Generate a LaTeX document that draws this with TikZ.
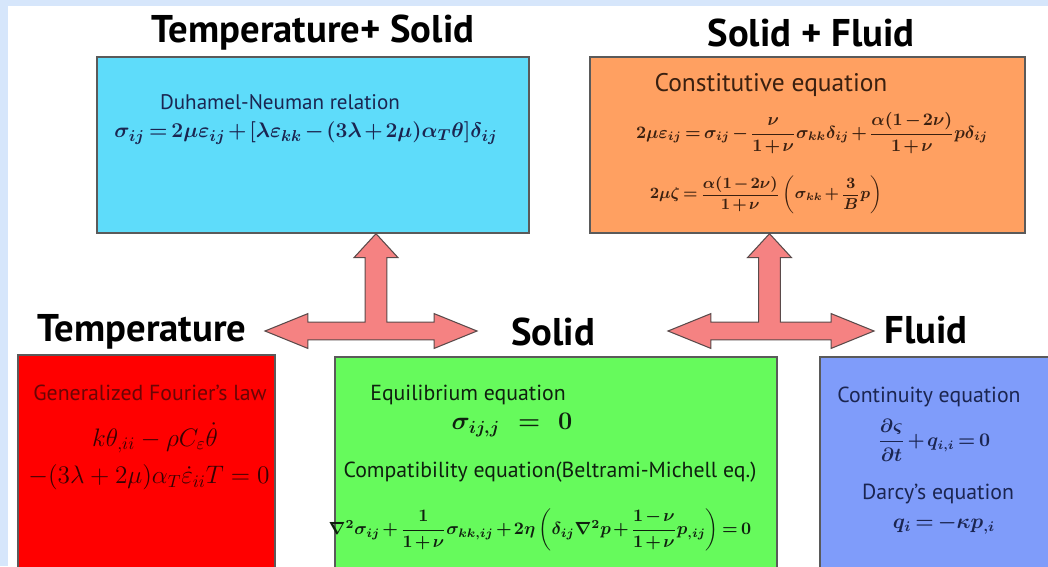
\documentclass[tikz,border=0pt]{standalone}
\usepackage{amsmath}
\usepackage{fontspec}
\setmainfont{PT Sans}
\usepackage{xcolor}
\definecolor{framebg}{HTML}{D6E6FB}
\definecolor{tsfill}{HTML}{5EDCFA}
\definecolor{sffill}{HTML}{FFA061}
\definecolor{tfill}{HTML}{FF0000}
\definecolor{sfill}{HTML}{66FA5C}
\definecolor{ffill}{HTML}{7F9CFA}
\definecolor{arrfill}{HTML}{F58282}
\definecolor{arrline}{HTML}{5A4A4A}
\definecolor{boxline}{HTML}{5A5A5A}
\definecolor{navytxt}{HTML}{1B2550}
\definecolor{browntxt}{HTML}{3A2010}
\definecolor{redtxt}{HTML}{6A0505}
\definecolor{greentxt}{HTML}{0F200F}
\usepackage{tikz}
\usetikzlibrary{calc}
% fat T-shaped double arrow: left tip, right tip, top tip
\newcommand{\teearrow}[3]{%
  \draw[bigarr] let \p1=(#1), \p2=(#2), \p3=(#3) in
    (\x1,\y1) -- ({\x1+24.4pt},{\y1+9.9pt}) -- ({\x1+24.4pt},{\y1+5.1pt})
    -- ({\x3-6.2pt},{\y1+5.1pt}) -- ({\x3-6.2pt},{\y3-13.6pt})
    -- ({\x3-12.5pt},{\y3-13.6pt}) -- (\x3,\y3) -- ({\x3+12.5pt},{\y3-13.6pt})
    -- ({\x3+6.2pt},{\y3-13.6pt}) -- ({\x3+6.2pt},{\y1+5.1pt})
    -- ({\x2-24.4pt},{\y1+5.1pt}) -- ({\x2-24.4pt},{\y1+9.9pt}) -- (\x2,\y1)
    -- ({\x2-24.4pt},{\y1-9.9pt}) -- ({\x2-24.4pt},{\y1-5.1pt})
    -- ({\x1+24.4pt},{\y1-5.1pt}) -- ({\x1+24.4pt},{\y1-9.9pt}) -- cycle;}
% equation font: size, bold math, tighter operator spacing
\newcommand{\eqfont}[1]{\fontsize{#1}{#1}\selectfont\boldmath\thickmuskip=3mu\medmuskip=2mu}

\begin{document}
\begin{tikzpicture}[x=0.02cm,y=-0.02cm,
  box/.style={draw=boxline,line width=0.8pt,inner sep=0pt},
  ttl/.style={font=\fontsize{22}{24}\selectfont\bfseries,text=black},
  hd/.style={font=\fontsize{12.4}{14}\selectfont},
  eqn/.style={inner sep=1pt},
  bigarr/.style={draw=arrline,fill=arrfill,line width=0.6pt,line join=miter}]
\useasboundingbox (0,0) rectangle (1048,566);
\clip (0,0) rectangle (1048,566);
\fill[framebg] (0,0) rectangle (1048,566);
\fill[white] (8,6) rectangle (1048,566);

% boxes
\node[box,fill=tsfill,minimum width=8.64cm,minimum height=3.52cm] (tsbox) at (313,145) {};
\node[box,fill=sffill,minimum width=8.7cm,minimum height=3.52cm] (sfbox) at (807.5,145) {};
\node[box,fill=tfill,minimum width=5.14cm,minimum height=4.6cm] (tbox) at (146.5,470) {};
\node[box,fill=sfill,minimum width=8.84cm,minimum height=4.6cm] (sbox) at (556,472) {};
\node[box,fill=ffill,minimum width=5cm,minimum height=4.6cm] (fbox) at (945,472) {};

% titles
\node[ttl] (tstitle) at (313,33) {Temperature+ Solid};
\node[ttl] (sftitle) at (811,33) {Solid + Fluid};
\node[ttl] (temp) at (142,332) {Temperature};
\node[ttl] (solid) at (553,332) {Solid};
\node[ttl] (fluid) at (926,330) {Fluid};

% Temperature + Solid
\node[hd,text=navytxt,font=\fontsize{12}{14}\selectfont] (dnlbl) at (280,102) {Duhamel-Neuman relation};
\node[eqn,text=navytxt,font=\eqfont{12.5}] (dneq) at (306,133)
  {$\sigma_{ij} = 2\mu\varepsilon_{ij} + [\lambda\varepsilon_{kk} - (3\lambda+2\mu)\alpha_T\theta]\delta_{ij}$};

% Solid + Fluid
\node[hd,text=browntxt,font=\fontsize{14.5}{16}\selectfont] (celbl) at (771,85) {Constitutive equation};
\node[eqn,text=browntxt,font=\eqfont{10}] (ceeq) at (812,133)
  {$2\mu\varepsilon_{ij} = \sigma_{ij} - \dfrac{\nu}{1+\nu}\sigma_{kk}\delta_{ij} + \dfrac{\alpha(1-2\nu)}{1+\nu}p\delta_{ij}$};
\node[eqn,text=browntxt,font=\eqfont{9.1}] (zeq) at (766,195)
  {$2\mu\zeta = \dfrac{\alpha(1-2\nu)}{1+\nu}\left(\sigma_{kk} + \dfrac{3}{B}p\right)$};

% Temperature
\node[hd,text=redtxt] (fllbl) at (150,393) {Generalized Fourier's law};
\node[eqn,text=redtxt!50!black,font=\fontsize{14}{16}\selectfont] (fleqa) at (155,438)
  {$k\theta_{,ii} - \rho C_\varepsilon\dot{\theta}$};
\node[eqn,text=redtxt!50!black,font=\fontsize{14.2}{16}\selectfont] (fleqb) at (149,477)
  {$-(3\lambda+2\mu)\alpha_T\dot{\varepsilon}_{ii}T = 0$};

% Solid
\node[hd,text=greentxt] (eqlbl) at (468,395) {Equilibrium equation};
\node[eqn,text=greentxt,font=\eqfont{14}] (eqeq) at (512,425) {$\sigma_{ij,j}\ \ =\ \ 0$};
\node[hd,text=greentxt] (cmlbl) at (550,472) {Compatibility equation(Beltrami-Michell eq.)};
\node[eqn,text=greentxt,font=\eqfont{9.7}] (cmeq) at (540,530)
  {$\nabla^2\sigma_{ij} + \dfrac{1}{1+\nu}\sigma_{kk,ij} + 2\eta\left(\delta_{ij}\nabla^2 p + \dfrac{1-\nu}{1+\nu}p_{,ij}\right) = 0$};

% Fluid
\node[hd,text=navytxt] (ctlbl) at (929,397) {Continuity equation};
\node[eqn,text=navytxt,font=\eqfont{10.5}] (cteq) at (934,440)
  {$\dfrac{\partial\varsigma}{\partial t} + q_{i,i} = 0$};
\node[hd,text=navytxt] (dclbl) at (938,494) {Darcy's equation};
\node[eqn,text=navytxt,font=\eqfont{12}] (dceq) at (944,525)
  {$q_i = -\kappa p_{,i}$};

% arrows
\coordinate (ltl) at (265,331);
\coordinate (ltr) at (477,331);
\coordinate (rtl) at (668,331);
\coordinate (rtr) at (874,331);
\teearrow{ltl}{ltr}{$(tsbox.south)+(63,0)$}
\teearrow{rtl}{rtr}{$(sfbox.south)+(-38,0)$}
\end{tikzpicture}
\end{document}
